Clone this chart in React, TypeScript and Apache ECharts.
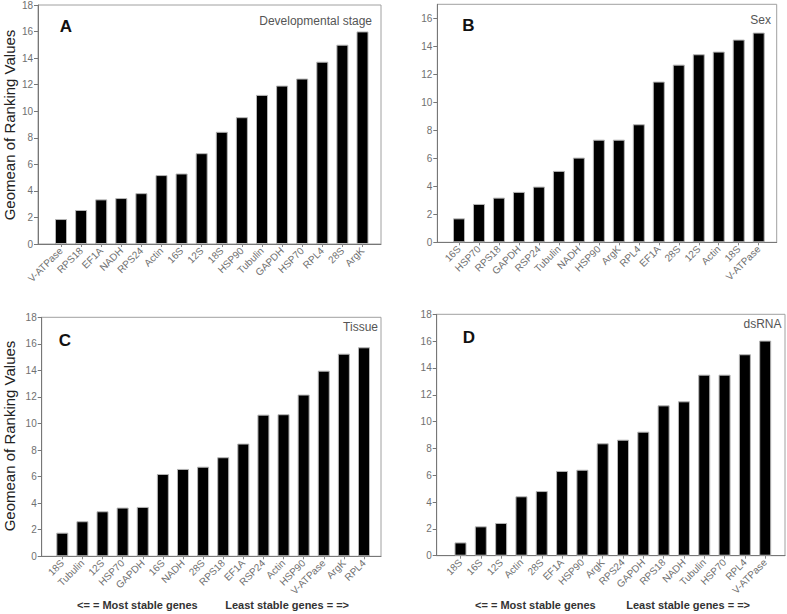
import React, { useEffect, useRef } from "react";
import * as echarts from "echarts";

const catsA = ["V-ATPase", "RPS18", "EF1A", "NADH", "RPS24", "Actin", "16S", "12S", "18S", "HSP90", "Tubulin", "GAPDH", "HSP70", "RPL4", "28S", "ArgK"];
const valsA = [1.88, 2.56, 3.36, 3.46, 3.83, 5.19, 5.31, 6.84, 8.45, 9.55, 11.23, 11.93, 12.46, 13.73, 15.01, 16.01];

const catsB = ["16S", "HSP70", "RPS18", "GAPDH", "RSP24", "Tubulin", "NADH", "HSP90", "ArgK", "RPL4", "EF1A", "28S", "12S", "Actin", "18S", "V-ATPase"];
const valsB = [1.71, 2.74, 3.19, 3.6, 3.98, 5.1, 6.05, 7.33, 7.33, 8.43, 11.48, 12.69, 13.43, 13.62, 14.48, 14.98];

const catsC = ["18S", "Tubulin", "12S", "HSP70", "GAPDH", "16S", "NADH", "28S", "RPS18", "EF1A", "RSP24", "Actin", "HSP90", "V-ATPase", "ArgK", "RPL4"];
const valsC = [1.78, 2.64, 3.39, 3.67, 3.72, 6.2, 6.58, 6.75, 7.46, 8.49, 10.67, 10.7, 12.18, 13.98, 15.26, 15.74];

const catsD = ["18S", "16S", "12S", "Actin", "28S", "EF1A", "HSP90", "ArgK", "RPS24", "GAPDH", "RPS18", "NADH", "Tubulin", "HSP70", "RPL4", "V-ATPase"];
const valsD = [0.99, 2.19, 2.44, 4.43, 4.82, 6.32, 6.41, 8.38, 8.65, 9.25, 11.21, 11.51, 13.5, 13.5, 15.02, 16.04];

const yMax = [18, 17, 18, 18];
const showMaxTick = [true, false, true, true];
const panelLetters = ["A", "B", "C", "D"];
const panelNames = ["Developmental stage", "Sex", "Tissue", "dsRNA"];
const yTitle = "Geomean of Ranking Values";
const footLeft = "<= = Most stable genes";
const footRight = "Least stable genes = =>";

const FONT = "Liberation Sans, Arial, sans-serif";

// layout: frame grids and bar grids (pixels)
const frames = [
  { left: 38, top: 5, width: 343, height: 239 },
  { left: 437.3, top: 4.3, width: 339.4, height: 238 },
  { left: 41.7, top: 317.3, width: 339.3, height: 239 },
  { left: 436.7, top: 314.3, width: 348.3, height: 241.4 },
];
const barGrids = [
  { left: 50.95, width: 321.6 },
  { left: 449, width: 319.7 },
  { left: 52.25, width: 321.8 },
  { left: 450.35, width: 325 },
];

export default function App() {
  const ref = useRef<HTMLDivElement>(null);
  useEffect(() => {
    if (!ref.current) return;
    const chart = echarts.init(ref.current, null, { renderer: "svg" });
    const cats = [catsA, catsB, catsC, catsD];
    const vals = [valsA, valsB, valsC, valsD];
    const grid: any[] = [];
    const xAxis: any[] = [];
    const yAxis: any[] = [];
    const series: any[] = [];
    for (let p = 0; p < 4; p++) {
      const f = frames[p];
      const b = barGrids[p];
      grid.push({ left: f.left, top: f.top, width: f.width, height: f.height, show: true, borderColor: "#a0a0a0", borderWidth: 1, backgroundColor: "transparent" });
      grid.push({ left: b.left, top: f.top, width: b.width, height: f.height });
      const gi = p * 2;
      xAxis.push({
        type: "value", gridIndex: gi, min: 0, max: 1, show: true,
        axisLine: { show: true, lineStyle: { color: "#777", width: 1 } },
        axisTick: { show: false }, axisLabel: { show: false }, splitLine: { show: false },
      });
      xAxis.push({
        type: "category", gridIndex: gi + 1, data: cats[p], boundaryGap: true,
        axisLine: { show: false },
        axisTick: { show: true, alignWithLabel: true, length: 3, lineStyle: { color: "#888" } },
        axisLabel: { rotate: 45, fontSize: 10, color: "#707070", fontFamily: FONT, margin: 5, interval: 0 },
        splitLine: { show: false },
      });
      yAxis.push({
        type: "value", gridIndex: gi, min: 0, max: yMax[p], interval: 2,
        axisLine: { show: true, lineStyle: { color: "#777", width: 1 } },
        axisTick: { show: true, length: 4, lineStyle: { color: "#777" } },
        axisLabel: { fontSize: 10, color: "#707070", fontFamily: FONT, margin: 5, showMaxLabel: showMaxTick[p] },
        splitLine: { show: false },
      });
      yAxis.push({ type: "value", gridIndex: gi + 1, min: 0, max: yMax[p], show: false, splitLine: { show: false } });
      series.push({
        type: "bar", xAxisIndex: gi + 1, yAxisIndex: gi + 1, data: vals[p], barWidth: 12,
        itemStyle: { color: "#000", borderColor: "#b5b5b5", borderWidth: 1 },
        silent: true,
      });
    }
    const graphic: any[] = [];
    const letterPos = [[66, 26], [468.5, 25], [65, 340], [469, 337]];
    const namePos = [[372, 21], [771, 20], [378, 327], [781.5, 324]];
    for (let p = 0; p < 4; p++) {
      graphic.push({
        type: "text", x: letterPos[p][0], y: letterPos[p][1],
        style: { text: panelLetters[p], font: `bold 17px ${FONT}`, fill: "#111", textAlign: "center", textVerticalAlign: "middle" },
      });
      graphic.push({
        type: "text", x: namePos[p][0], y: namePos[p][1],
        style: { text: panelNames[p], font: `12px ${FONT}`, fill: "#555", textAlign: "right", textVerticalAlign: "middle" },
      });
    }
    graphic.push({ type: "text", x: 9, y: 125, rotation: Math.PI / 2, style: { text: yTitle, font: `15px ${FONT}`, fill: "#222", textAlign: "center", textVerticalAlign: "middle" } });
    graphic.push({ type: "text", x: 9, y: 436, rotation: Math.PI / 2, style: { text: yTitle, font: `15px ${FONT}`, fill: "#222", textAlign: "center", textVerticalAlign: "middle" } });
    const footY = 605;
    graphic.push({ type: "text", x: 77, y: footY, style: { text: footLeft, font: `bold 11px ${FONT}`, fill: "#333", textAlign: "left", textVerticalAlign: "middle" } });
    graphic.push({ type: "text", x: 349, y: footY, style: { text: footRight, font: `bold 11px ${FONT}`, fill: "#333", textAlign: "right", textVerticalAlign: "middle" } });
    graphic.push({ type: "text", x: 475, y: footY, style: { text: footLeft, font: `bold 11px ${FONT}`, fill: "#333", textAlign: "left", textVerticalAlign: "middle" } });
    graphic.push({ type: "text", x: 750, y: footY, style: { text: footRight, font: `bold 11px ${FONT}`, fill: "#333", textAlign: "right", textVerticalAlign: "middle" } });

    chart.setOption({
      animation: false,
      backgroundColor: "#fff",
      grid, xAxis, yAxis, series, graphic,
    });
    return () => chart.dispose();
  }, []);
  return <div ref={ref} style={{ width: 787, height: 614, position: "absolute", left: 0, top: 0 }} />;
}
